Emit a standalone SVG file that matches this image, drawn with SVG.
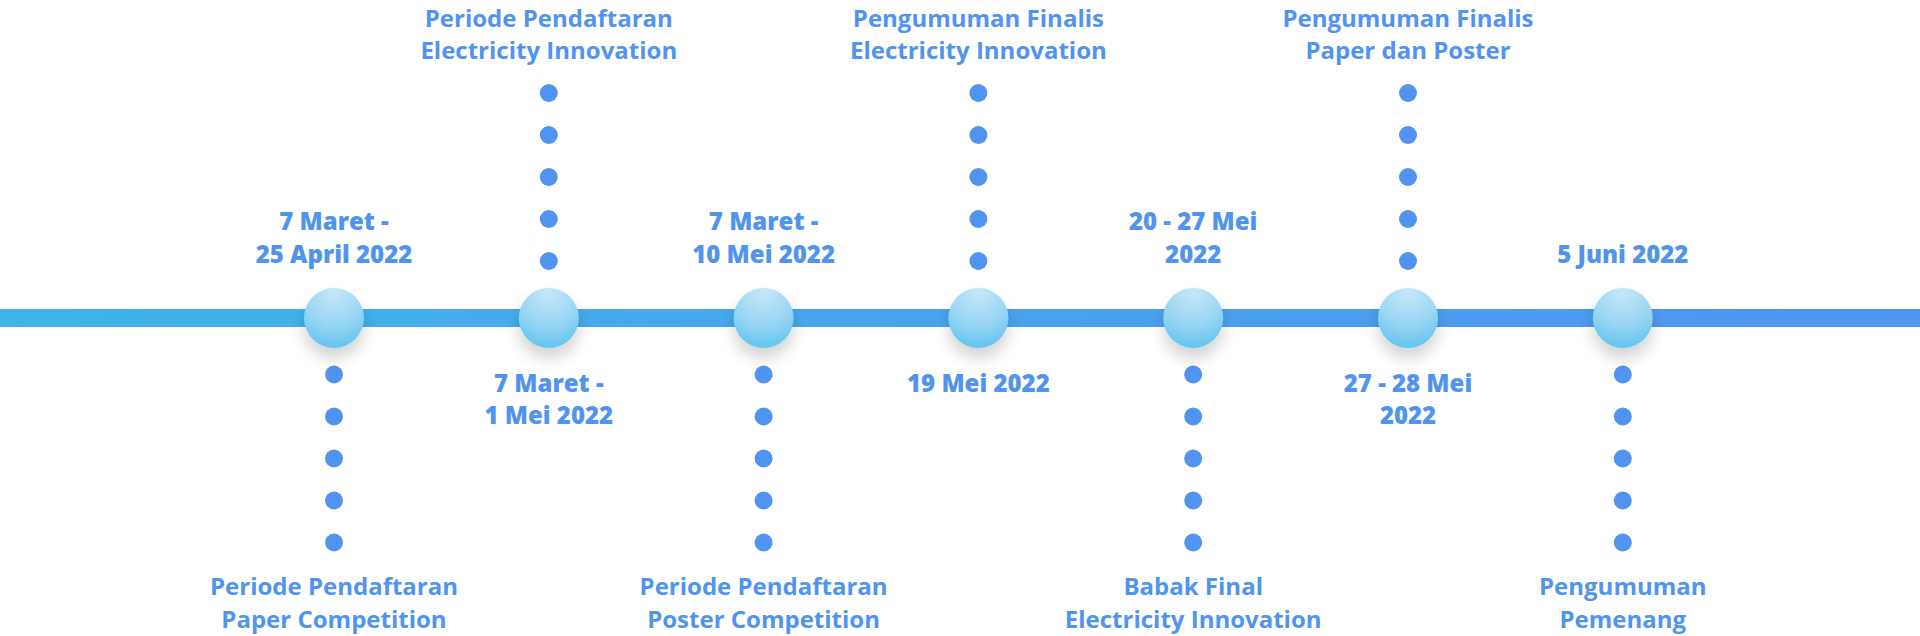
<svg xmlns="http://www.w3.org/2000/svg" width="1920" height="636" viewBox="0 0 1920 636">
<style>
.t{font-family:"Open Sans","Liberation Sans",sans-serif;font-weight:700;font-size:24px;fill:#5094F0;text-anchor:middle}
.d{font-family:"Open Sans","Liberation Sans",sans-serif;font-weight:800;font-size:24px;fill:#5094F0;text-anchor:middle}
.dot{fill:#5094F0}
</style>
<defs>
<linearGradient id="lineG" x1="0" y1="0" x2="1" y2="0">
<stop offset="0" stop-color="#40B4E8"/>
<stop offset="1" stop-color="#5094F0"/>
</linearGradient>
<radialGradient id="ballG" cx="0.5" cy="0.1" r="0.95" fx="0.5" fy="0.05">
<stop offset="0" stop-color="#C8E7F8"/>
<stop offset="0.55" stop-color="#9AD6F4"/>
<stop offset="1" stop-color="#5CC2EE"/>
</radialGradient>
<filter id="sh" x="-60%" y="-60%" width="220%" height="240%">
<feGaussianBlur in="SourceAlpha" stdDeviation="8"/>
<feOffset dy="10"/>
<feComponentTransfer><feFuncA type="linear" slope="0.18"/></feComponentTransfer>
<feMerge><feMergeNode/><feMergeNode in="SourceGraphic"/></feMerge>
</filter>
<g id="dots"><circle cx="0" cy="0" r="9"/><circle cx="0" cy="42" r="9"/><circle cx="0" cy="84" r="9"/><circle cx="0" cy="126" r="9"/><circle cx="0" cy="168" r="9"/></g>
</defs>
<rect width="1920" height="636" fill="#FFFFFF"/>
<g id="connectors">
<rect x="0" y="309" width="1920" height="18" fill="url(#lineG)"/>
<g class="dot">
<use href="#dots" x="334" y="374.5"/>
<use href="#dots" x="548.8" y="93"/>
<use href="#dots" x="763.6" y="374.5"/>
<use href="#dots" x="978.4" y="93"/>
<use href="#dots" x="1193.2" y="374.5"/>
<use href="#dots" x="1408" y="93"/>
<use href="#dots" x="1622.8" y="374.5"/>
</g>
</g>
<g id="n1">
<circle cx="334" cy="318" r="30" fill="url(#ballG)" filter="url(#sh)"/>
<text class="d" x="334" y="230">7 Maret -</text>
<text class="d" x="334" y="262.5">25 April 2022</text>
<text class="t" x="334" y="595">Periode Pendaftaran</text>
<text class="t" x="334" y="627.5">Paper Competition</text>
</g>
<g id="n2">
<circle cx="548.8" cy="318" r="30" fill="url(#ballG)" filter="url(#sh)"/>
<text class="t" x="548.8" y="26.5">Periode Pendaftaran</text>
<text class="t" x="548.8" y="59">Electricity Innovation</text>
<text class="d" x="548.8" y="391.5">7 Maret -</text>
<text class="d" x="548.8" y="423.5">1 Mei 2022</text>
</g>
<g id="n3">
<circle cx="763.6" cy="318" r="30" fill="url(#ballG)" filter="url(#sh)"/>
<text class="d" x="763.6" y="230">7 Maret -</text>
<text class="d" x="763.6" y="262.5">10 Mei 2022</text>
<text class="t" x="763.6" y="595">Periode Pendaftaran</text>
<text class="t" x="763.6" y="627.5">Poster Competition</text>
</g>
<g id="n4">
<circle cx="978.4" cy="318" r="30" fill="url(#ballG)" filter="url(#sh)"/>
<text class="t" x="978.4" y="26.5">Pengumuman Finalis</text>
<text class="t" x="978.4" y="59">Electricity Innovation</text>
<text class="d" x="978.4" y="391.5">19 Mei 2022</text>
</g>
<g id="n5">
<circle cx="1193.2" cy="318" r="30" fill="url(#ballG)" filter="url(#sh)"/>
<text class="d" x="1193.2" y="230">20 - 27 Mei</text>
<text class="d" x="1193.2" y="262.5">2022</text>
<text class="t" x="1193.2" y="595">Babak Final</text>
<text class="t" x="1193.2" y="627.5">Electricity Innovation</text>
</g>
<g id="n6">
<circle cx="1408" cy="318" r="30" fill="url(#ballG)" filter="url(#sh)"/>
<text class="t" x="1408" y="26.5">Pengumuman Finalis</text>
<text class="t" x="1408" y="59">Paper dan Poster</text>
<text class="d" x="1408" y="391.5">27 - 28 Mei</text>
<text class="d" x="1408" y="423.5">2022</text>
</g>
<g id="n7">
<circle cx="1622.8" cy="318" r="30" fill="url(#ballG)" filter="url(#sh)"/>
<text class="d" x="1622.8" y="262.5">5 Juni 2022</text>
<text class="t" x="1622.8" y="595">Pengumuman</text>
<text class="t" x="1622.8" y="627.5">Pemenang</text>
</g>
</svg>
